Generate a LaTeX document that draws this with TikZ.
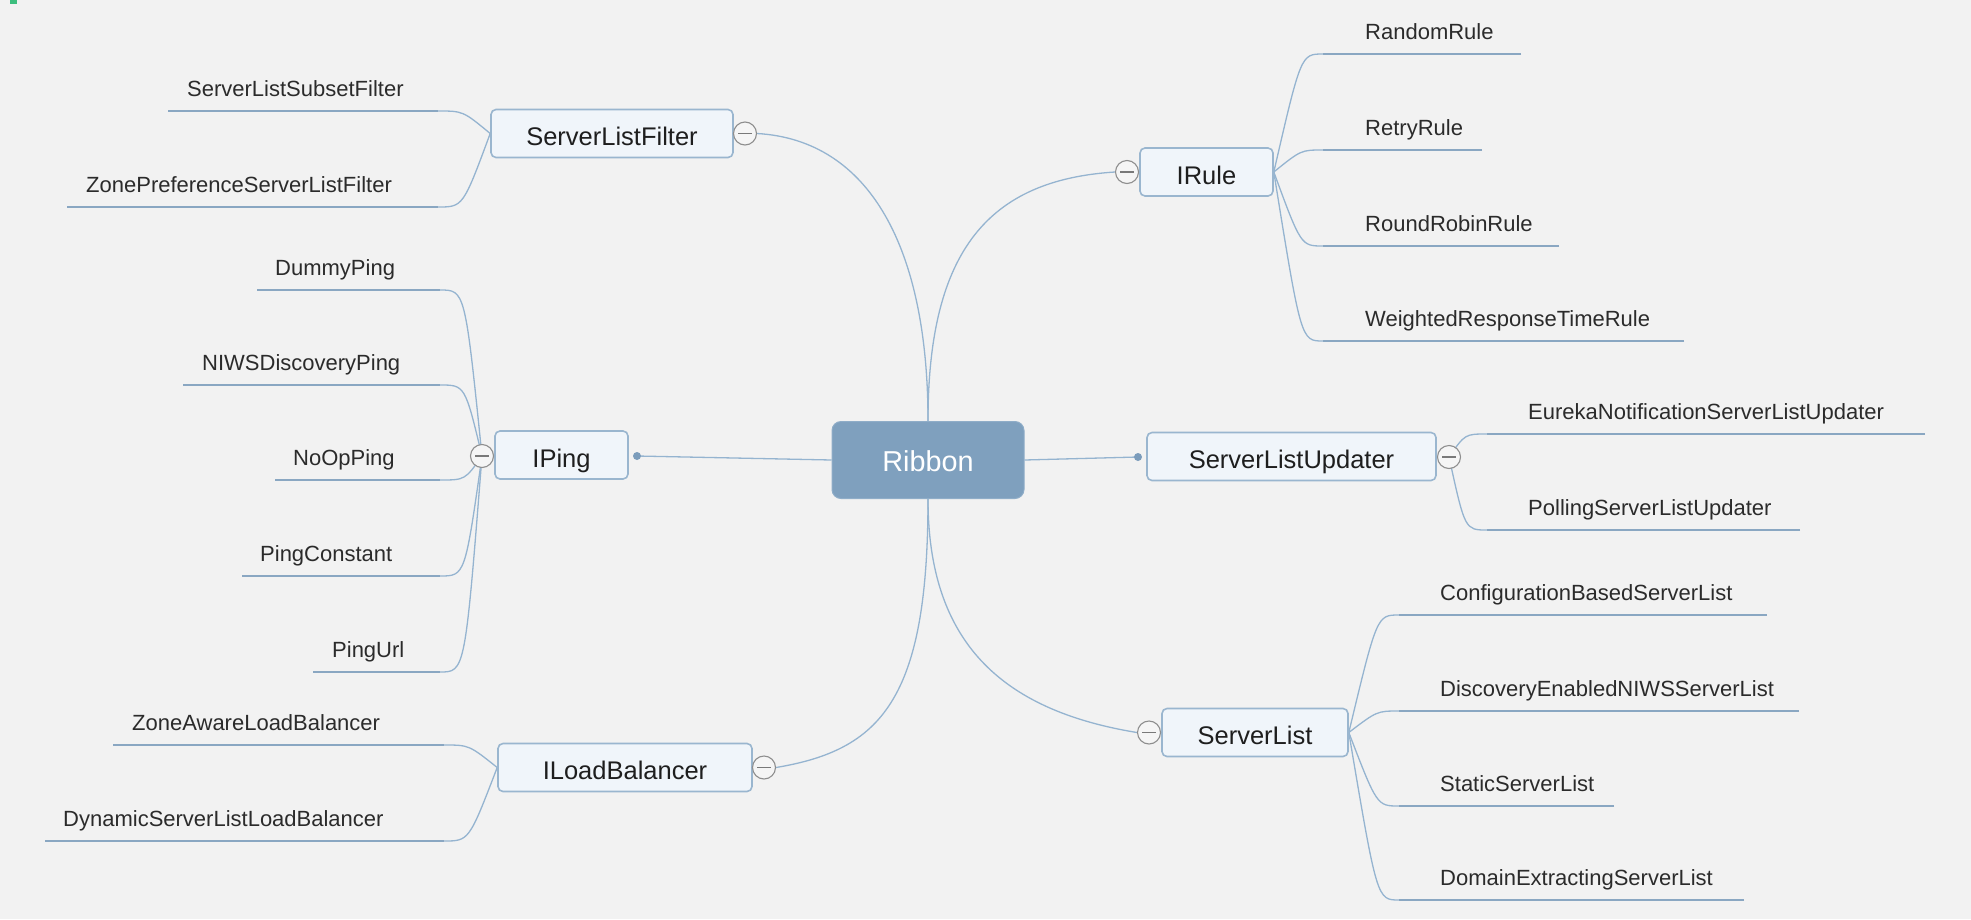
\documentclass[tikz,border=0pt]{standalone}
\usepackage{fontspec}
\setmainfont{Liberation Sans}
\usetikzlibrary{calc}
\pgfdeclarelayer{bgl}
\pgfdeclarelayer{conn}
\pgfsetlayers{bgl,conn,main}
\definecolor{bgc}{HTML}{F2F2F2}
\definecolor{rootc}{HTML}{7FA0BE}
\definecolor{rootb}{HTML}{8FADC8}
\definecolor{boxf}{HTML}{F0F5FA}
\definecolor{boxb}{HTML}{9AB6CF}
\definecolor{linec}{HTML}{95B4D0}
\definecolor{ulc}{HTML}{8AA7C2}
\definecolor{txt}{HTML}{1E1E1E}
\definecolor{leaft}{HTML}{2B2B2B}
\definecolor{collb}{HTML}{8E8E8E}
\definecolor{dotc}{HTML}{7B9CBB}
\definecolor{markc}{HTML}{3DBE7E}
\tikzset{
 rootbox/.style={draw=rootb, fill=rootc, rounded corners=9pt, line width=1pt, text=white,
   font=\fontsize{28.8}{34}\selectfont, minimum width=192pt, minimum height=77pt, inner sep=0pt,
   text height=23.4pt, text depth=0pt},
 cbox/.style={draw=boxb, fill=boxf, rounded corners=5pt, line width=1.6pt, text=txt,
   font=\fontsize{25.5}{30}\selectfont, minimum height=48pt, inner sep=0pt,
   text height=24.3pt, text depth=0pt},
 leaf/.style={anchor=base west, inner sep=0pt, text=leaft, font=\fontsize{22}{26}\selectfont},
 coll/.style={circle, draw=collb, fill=white!96!black, line width=1.1pt, minimum size=23pt, inner sep=0pt,
   path picture={\draw[collb!85!black, line width=1.4pt]
     ([xshift=4.5pt]path picture bounding box.west) -- ([xshift=-4.5pt]path picture bounding box.east);}},
 dotn/.style={circle, fill=dotc, minimum size=8pt, inner sep=0pt},
 cline/.style={draw=linec, line width=1.3pt},
 uline/.style={draw=ulc, line width=2pt},
}
% name, text, text-left x, line y, outer x, inner x, junction, control offset
\newcommand\mmleaf[8]{%
  \node[leaf] (#1) at (#3,#4-15) {#2};
  \coordinate (#1-o) at (#5,#4);
  \coordinate (#1-i) at (#6,#4);
  \begin{pgfonlayer}{conn}
    \draw[uline] (#1-o) -- (#1-i);
    \draw[cline] (#1-i) .. controls ($(#1-i)+(#8,0)$) .. (#7);
  \end{pgfonlayer}}
\begin{document}
\begin{tikzpicture}[x=1pt,y=-1pt]
\begin{pgfonlayer}{bgl}
\fill[bgc] (0,0) rectangle (1971,919);
\fill[markc] (10,0) rectangle (17,3.5);
\end{pgfonlayer}
\useasboundingbox (0,0) rectangle (1971,919);

% root
\node[rootbox] (ribbon) at (928,460) {Ribbon};

% main topics
\node[cbox, minimum width=242pt] (slf) at (612,133.5) {ServerListFilter};
\node[coll] (slfc) at (745,133.5) {};
\node[cbox, minimum width=133pt] (iping) at (561.5,455) {IPing};
\node[coll] (ipingc) at (482,456) {};
\node[dotn] (ipingd) at (637,456) {};
\node[cbox, minimum width=254pt] (ilb) at (625,767.5) {ILoadBalancer};
\node[coll] (ilbc) at (764,767.5) {};
\node[cbox, minimum width=133pt] (irule) at (1206.5,172) {IRule};
\node[coll] (irulec) at (1127,172) {};
\node[cbox, minimum width=289pt] (slu) at (1291.5,456.5) {ServerListUpdater};
\node[dotn] (slud) at (1138,457) {};
\node[coll] (sluc) at (1449,457) {};
\node[cbox, minimum width=186pt] (sl) at (1255,732.5) {ServerList};
\node[coll] (slc) at (1149,732.5) {};

\begin{pgfonlayer}{conn}
\draw[cline] (ribbon.north) .. controls +(0,-171.5) and +(113.5,6.5) .. (slfc.east);
\draw[cline] (ribbon.north) .. controls +(0,-171.5) and +(-125.5,8) .. (irulec.west);
\draw[cline] (ribbon.south) .. controls +(0,201.5) and +(104.5,-17.5) .. (ilbc.east);
\draw[cline] (ribbon.south) .. controls +(0,141.5) and +(-137.5,-22.5) .. (slc.west);
\draw[cline] (ribbon.west) -- (ipingd.center);
\draw[cline] (ribbon.east) -- (slud.center);
\end{pgfonlayer}

% ServerListFilter leaves
\mmleaf{l1}{ServerListSubsetFilter}{187}{111}{168}{438}{slf.west}{25}
\mmleaf{l2}{ZonePreferenceServerListFilter}{86}{207}{67}{438}{slf.west}{25}
% IPing leaves
\mmleaf{p1}{DummyPing}{275}{290}{257}{440}{ipingc.center}{25}
\mmleaf{p2}{NIWSDiscoveryPing}{202}{385}{183}{440}{ipingc.center}{25}
\mmleaf{p3}{NoOpPing}{293}{480}{275}{440}{ipingc.center}{25}
\mmleaf{p4}{PingConstant}{260}{576}{242}{440}{ipingc.center}{25}
\mmleaf{p5}{PingUrl}{332}{672}{313}{440}{ipingc.center}{25}
% ILoadBalancer leaves
\mmleaf{b1}{ZoneAwareLoadBalancer}{132}{745}{113}{444}{ilb.west}{25}
\mmleaf{b2}{DynamicServerListLoadBalancer}{63}{841}{45}{444}{ilb.west}{25}
% IRule leaves
\mmleaf{r1}{RandomRule}{1365}{54}{1521}{1323}{irule.east}{-22}
\mmleaf{r2}{RetryRule}{1365}{150}{1482}{1323}{irule.east}{-22}
\mmleaf{r3}{RoundRobinRule}{1365}{246}{1559}{1323}{irule.east}{-22}
\mmleaf{r4}{WeightedResponseTimeRule}{1365}{341}{1684}{1323}{irule.east}{-22}
% ServerListUpdater leaves
\mmleaf{u1}{EurekaNotificationServerListUpdater}{1528}{434}{1925}{1487}{sluc.center}{-22}
\mmleaf{u2}{PollingServerListUpdater}{1528}{530}{1800}{1487}{sluc.center}{-22}
% ServerList leaves
\mmleaf{s1}{ConfigurationBasedServerList}{1440}{615}{1767}{1399}{sl.east}{-22}
\mmleaf{s2}{DiscoveryEnabledNIWSServerList}{1440}{711}{1799}{1399}{sl.east}{-22}
\mmleaf{s3}{StaticServerList}{1440}{806}{1614}{1399}{sl.east}{-22}
\mmleaf{s4}{DomainExtractingServerList}{1440}{900}{1744}{1399}{sl.east}{-22}
\end{tikzpicture}
\end{document}
